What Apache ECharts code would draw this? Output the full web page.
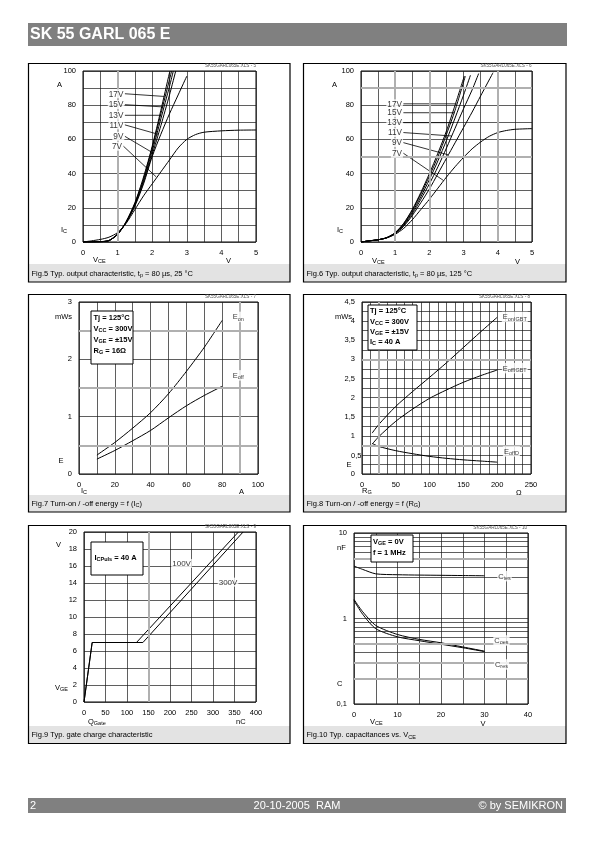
<!DOCTYPE html>
<html><head><meta charset="utf-8">
<script src="https://cdn.jsdelivr.net/npm/echarts@6/dist/echarts.min.js"></script>
<style>html,body{margin:0;padding:0;background:#fff}#c{width:595px;height:842px}</style>
</head><body><div id="c"></div>
<script>
// ================= DATA =================
// Fig.5  Ic [A] vs Vce [V], 25 °C
const f5Names = ['17V','15V','13V','11V','9V','7V'];
const f5_17V = [[0,0],[0.5,0.2],[0.75,0.8],[1.0,4.5],[1.25,12],[1.5,23],[1.75,38],[2.0,56],[2.25,77],[2.5,99],[2.52,100]];
const f5_15V = [[0,0],[0.5,0.2],[0.75,0.8],[1.0,4.5],[1.25,12],[1.5,22.5],[1.75,37],[2.0,55],[2.25,75],[2.5,95],[2.56,100]];
const f5_13V = [[0,0],[0.5,0.2],[0.75,0.8],[1.0,4.5],[1.25,11.5],[1.5,22],[1.75,36],[2.0,53],[2.25,72],[2.5,91],[2.61,100]];
const f5_11V = [[0,0],[0.5,0.2],[0.75,0.8],[1.0,4.5],[1.25,11.5],[1.5,21.5],[1.75,35],[2.0,51],[2.25,68],[2.5,86],[2.68,100]];
const f5_9V  = [[0,0],[0.5,0.2],[0.75,0.9],[1.0,4.8],[1.25,11.5],[1.5,21],[1.75,34],[2.0,50],[2.25,63],[2.5,75],[2.75,86],[3.0,97]];
const f5_7V  = [[0,0],[0.25,0.7],[0.5,1.5],[0.75,2.8],[1.0,5.5],[1.25,11],[1.5,19],[1.75,27],[2.0,34],[2.25,41],[2.5,48],[2.75,55],[3.0,60],[3.25,62.8],[3.5,64.2],[4.0,65],[4.5,65.4],[5.0,65.5]];
const f5LabelAt  = [[1.21,86.7],[1.21,80.3],[1.21,74.1],[1.21,68.5],[1.21,61.8],[1.17,56]];
const f5LeaderTo = [[2.36,85.1],[2.32,79],[2.27,74.1],[2.17,63],[2.03,52],[2.12,38]];

// Fig.6  Ic [A] vs Vce [V], 125 °C
const f6Names = ['17V','15V','13V','11V','9V','7V'];
const f6_17V = [[0,0],[0.25,0.7],[0.5,1.3],[0.75,2.5],[1.0,5.5],[1.25,11],[1.5,19],[1.75,29],[2.0,40],[2.25,52],[2.5,65],[2.75,80],[3.02,97]];
const f6_15V = [[0,0],[0.25,0.7],[0.5,1.3],[0.75,2.5],[1.0,5.4],[1.25,10.7],[1.5,18.5],[1.75,28],[2.0,38.5],[2.25,50],[2.5,63],[2.75,77],[3.05,97]];
const f6_13V = [[0,0],[0.25,0.7],[0.5,1.3],[0.75,2.5],[1.0,5.2],[1.25,10.2],[1.5,17.5],[1.75,26.5],[2.0,36.5],[2.25,47.5],[2.5,59.5],[2.75,72.5],[3.0,86],[3.2,97.5]];
const f6_11V = [[0,0],[0.25,0.7],[0.5,1.3],[0.75,2.5],[1.0,5],[1.25,9.7],[1.5,16.5],[1.75,25],[2.0,34],[2.25,44],[2.5,55],[2.75,66.5],[3.0,78],[3.25,89],[3.44,98.5]];
const f6_9V  = [[0,0],[0.25,0.7],[0.5,1.3],[0.75,2.4],[1.0,4.8],[1.25,9.2],[1.5,15.5],[1.75,23],[2.0,31],[2.25,40],[2.5,49],[2.75,58],[3.0,67],[3.25,76],[3.5,85.5],[3.86,99]];
const f6_7V  = [[0,0],[0.25,0.7],[0.5,1.3],[0.75,2.4],[1.0,4.5],[1.25,8],[1.5,13],[1.75,19],[2.0,25],[2.25,31.5],[2.5,38],[2.75,44],[3.0,49.5],[3.25,54.5],[3.5,58.5],[3.75,61.8],[4.0,64],[4.25,65.2],[4.5,65.9],[5.0,66.3]];
const f6LabelAt  = [[1.24,80.8],[1.24,75.6],[1.24,69.8],[1.24,64],[1.24,58.1],[1.24,51.9]];
const f6LeaderTo = [[2.79,80.8],[2.74,75.6],[2.68,69.8],[2.65,62],[2.55,51],[2.41,36]];

// Fig.7  E [mWs] vs Ic [A]
const f7Ic   = [10,20,30,40,50,60,70,80];
const f7Eon  = [0.33,0.55,0.8,1.07,1.4,1.79,2.21,2.68];
const f7Eoff = [0.26,0.41,0.58,0.76,0.98,1.19,1.37,1.53];

// Fig.8  E [mWs] vs Rg [Ohm]
const f8Rg    = [15,25,50,75,100,125,150,175,200];
const f8EonIGBT  = [1.07,1.3,1.77,2.16,2.53,2.91,3.31,3.71,4.1];
const f8EoffIGBT = [0.78,0.98,1.38,1.7,1.98,2.2,2.4,2.57,2.72];
const f8EoffD    = [0.8,0.72,0.61,0.53,0.46,0.41,0.37,0.34,0.31];

// Fig.9  Vge [V] vs Qgate [nC]
const f9Q100 = [0,19,122,359];
const f9V100 = [0,7,7,20];
const f9Q300 = [0,19,137,370];
const f9V300 = [0,7,7,20];

// Fig.10  C [nF] vs Vce [V]
const f10Vce  = [0,2,5,10,15,20,25,30];
const f10Cies = [4.1,3.75,3.33,3.25,3.22,3.2,3.18,3.16];
const f10Coes = [1.67,1.2,0.83,0.65,0.57,0.52,0.465,0.415];
const f10Cres = [1.62,1.12,0.76,0.61,0.55,0.5,0.455,0.41];
const f10MinorGrid = [0.2,0.3,0.4,0.5,0.6,0.7,0.8,0.9,2,3,4,5,6,7,8,9];

// ================= RENDER =================
const F = "'Liberation Sans', Arial, Helvetica, sans-serif";
const zip = (xs, ys) => xs.map((x, i) => [x, ys[i]]);
const GRID_COL = '#1a1a1a';

const grids = [
  {left:83,  top:71,  width:173, height:171},
  {left:361, top:71,  width:171, height:171},
  {left:79,  top:302, width:179, height:172},
  {left:362, top:302, width:169, height:172},
  {left:84,  top:532, width:172, height:170},
  {left:354, top:533, width:174, height:171}
];

function axis(gi, o) {
  const a = {
    gridIndex: gi, type: o.log ? 'log' : 'value', min: o.min, max: o.max,
    axisLine: {show: false}, axisTick: {show: false},
    axisLabel: {margin: 7, fontFamily: F, fontSize: 7.5, color: '#000', formatter: o.fmt, showMinLabel: true, showMaxLabel: true},
    splitLine: {show: true, lineStyle: {color: GRID_COL, width: 0.7}}
  };
  if (o.log) a.logBase = 10; else a.interval = o.interval;
  if (o.minor) { a.minorTick = {show: false, splitNumber: o.minor}; a.minorSplitLine = {show: true, lineStyle: {color: GRID_COL, width: 0.7}}; }
  return a;
}
const comma = v => String(v).replace('.', ',');
const xAxis = [
  axis(0, {min:0, max:5, interval:1, minor:2}),
  axis(1, {min:0, max:5, interval:1, minor:2}),
  axis(2, {min:0, max:100, interval:20, minor:2}),
  axis(3, {min:0, max:250, interval:50, minor:4}),
  axis(4, {min:0, max:400, interval:50}),
  axis(5, {min:0, max:40, interval:10, minor:2})
];
const yAxis = [
  axis(0, {min:0, max:100, interval:20, minor:2}),
  axis(1, {min:0, max:100, interval:20, minor:2}),
  axis(2, {min:0, max:3, interval:1, minor:2}),
  axis(3, {min:0, max:4.5, interval:0.5, minor:2, fmt: v => (v === 0.5 ? '' : comma(v))}),
  axis(4, {min:0, max:20, interval:2}),
  axis(5, {min:0.1, max:10, log:true, fmt: comma})
];

const RICH = {
  n:  {fontFamily: F, fontSize: 7.5},
  s:  {fontFamily: F, fontSize: 5.5, padding: [3.5, 0, 0, 0]},
  b:  {fontFamily: F, fontSize: 7.5, fontWeight: 'bold'},
  bs: {fontFamily: F, fontSize: 5.5, fontWeight: 'bold', padding: [3.5, 0, 0, 0]}
};

const series = [];
function curve(gi, pts, smooth) {
  series.push({type: 'line', xAxisIndex: gi, yAxisIndex: gi, data: pts, showSymbol: false, symbol: 'none',
    smooth: smooth ? 0.25 : false, lineStyle: {color: '#000', width: 1}, silent: true, z: 3});
}
function leader(gi, a, b) {
  series.push({type: 'line', xAxisIndex: gi, yAxisIndex: gi, data: [a, b], showSymbol: false, symbol: 'none',
    lineStyle: {color: '#000', width: 0.8}, silent: true, z: 3});
}
function tag(gi, pt, text, pos, size) {
  series.push({type: 'scatter', xAxisIndex: gi, yAxisIndex: gi, data: [pt], symbolSize: 1,
    itemStyle: {color: 'rgba(0,0,0,0)'}, silent: true, z: 6,
    label: {show: true, position: pos || 'inside', distance: 0, formatter: text, color: '#000',
      fontFamily: F, fontSize: size || 7.5, backgroundColor: '#fff', padding: [1, 1, 0, 1], rich: RICH}});
}
function refLines(gi, items, color, width) {
  series.push({type: 'line', xAxisIndex: gi, yAxisIndex: gi, data: [], z: 1, silent: true,
    markLine: {symbol: 'none', silent: true, animation: false, label: {show: false},
      lineStyle: {color: color, width: width, type: 'solid'}, data: items}});
}

// Fig.5
refLines(0, [{xAxis: 1}], '#b0b0b0', 2);
[f5_17V, f5_15V, f5_13V, f5_11V, f5_9V, f5_7V].forEach(c => curve(0, c, true));
f5Names.forEach((n, i) => { leader(0, f5LabelAt[i], f5LeaderTo[i]); tag(0, f5LabelAt[i], n, 'left', 8.2); });
// Fig.6
refLines(1, [{xAxis: 1}, {xAxis: 2}, {xAxis: 4}, {yAxis: 50}, {yAxis: 90}], '#b0b0b0', 2);
[f6_17V, f6_15V, f6_13V, f6_11V, f6_9V, f6_7V].forEach(c => curve(1, c, true));
f6Names.forEach((n, i) => { leader(1, f6LabelAt[i], f6LeaderTo[i]); tag(1, f6LabelAt[i], n, 'left', 8.2); });
// Fig.7
refLines(2, [{yAxis: 0.5}, {yAxis: 1.5}, {yAxis: 2.5}, {xAxis: 90}], '#b0b0b0', 2);
curve(2, zip(f7Ic, f7Eon), true);
curve(2, zip(f7Ic, f7Eoff), true);
tag(2, [89, 2.74], '{n|E}{s|on}');
tag(2, [89, 1.72], '{n|E}{s|off}');
// Fig.8
refLines(3, [{yAxis: 3}, {yAxis: 0.75}, {xAxis: 25}], '#b0b0b0', 2);
curve(3, zip(f8Rg, f8EonIGBT), true);
curve(3, zip(f8Rg, f8EoffIGBT), true);
curve(3, zip(f8Rg, f8EoffD), true);
tag(3, [226, 4.11], '{n|E}{s|onIGBT}');
tag(3, [226, 2.77], '{n|E}{s|offIGBT}');
tag(3, [221, 0.59], '{n|E}{s|offD}');
// Fig.9
refLines(4, [{xAxis: 150}], '#b0b0b0', 2);
curve(4, zip(f9Q100, f9V100), false);
curve(4, zip(f9Q300, f9V300), false);
tag(4, [227, 16.3], '100V', 'inside', 8);
tag(4, [335, 14.1], '300V', 'inside', 8);
// Fig.10
refLines(5, f10MinorGrid.map(v => ({yAxis: v})), GRID_COL, 0.7);
refLines(5, [{yAxis: 5}, {yAxis: 0.5}, {yAxis: 0.3}, {yAxis: 0.2}], '#b0b0b0', 2);
curve(5, zip(f10Vce, f10Cies), true);
curve(5, zip(f10Vce, f10Coes), true);
curve(5, zip(f10Vce, f10Cres), true);
tag(5, [34.6, 3.13], '{n|C}{s|ies}');
tag(5, [33.9, 0.553], '{n|C}{s|oes}');
tag(5, [33.9, 0.29], '{n|C}{s|res}');

// ---------- page graphics ----------
const G = [];
function T(x, y, text, o) {
  G.push({type: 'text', z: 50, silent: true,
    style: Object.assign({x: x, y: y, text: text, fill: '#000', fontFamily: F, fontSize: 7.5,
      align: 'left', verticalAlign: 'middle', rich: RICH}, o || {})});
}
function R(x, y, w, h, fill, stroke, lw, z) {
  G.push({type: 'rect', z: z || 0, silent: true, shape: {x: x, y: y, width: w, height: h},
    style: {fill: fill, stroke: stroke, lineWidth: lw || 1}});
}
// header & footer
R(28, 23, 539, 23, '#808080', null, 0);
T(30, 35, 'SK 55 GARL 065 E', {fill: '#fff', fontSize: 16, fontWeight: 'bold'});
R(28, 798, 538, 15, '#808080', null, 0);
T(30, 805.5, '2', {fill: '#fff', fontSize: 11});
T(297, 805.5, '20-10-2005  RAM', {fill: '#fff', fontSize: 11, align: 'center'});
T(563, 805.5, '\u00a9 by SEMIKRON', {fill: '#fff', fontSize: 11, align: 'right'});

// panel boxes with caption bands
const boxX = [[28.5, 261.5], [303.5, 262.5]];
const boxY = [[63.5, 218.5, 264], [294.5, 217.5, 495], [525.5, 218, 726]];
const captions = [
  ['{n|Fig.5 Typ. output characteristic, t}{s|p}{n| = 80 \u00b5s, 25 \u00b0C}', '{n|Fig.6 Typ. output characteristic, t}{s|p}{n| = 80 \u00b5s, 125 \u00b0C}'],
  ['{n|Fig.7 Turn-on / -off energy = f (I}{s|C}{n|)}', '{n|Fig.8 Turn-on / -off energy = f (R}{s|G}{n|)}'],
  ['{n|Fig.9 Typ. gate charge characteristic}', '{n|Fig.10 Typ. capacitances vs. V}{s|CE}']
];
boxY.forEach((by, r) => boxX.forEach((bx, c) => {
  const bottom = by[0] + by[1];
  R(bx[0], by[2], bx[1], bottom - by[2], '#e3e3e3', null, 0, 0);
  R(bx[0], by[0], bx[1], by[1], 'none', '#000', 1.2, 40);
  T(bx[0] + 3, (by[2] + bottom) / 2 + 0.5, captions[r][c]);
}));

// source file notes
const srcNotes = [[256, 65.5, '5'], [531.5, 65.5, '6'], [256, 296.5, '7'], [530, 296.5, '8'], [256, 527, '9'], [527, 527.5, '10']];
srcNotes.forEach(s => T(s[0], s[1], 'SK55GARL065E.XLS - ' + s[2], {fontSize: 4.6, fill: '#555', align: 'right', rich: null}));

// axis unit labels
T(57, 85, '{n|A}'); T(61, 230, '{n|I}{s|C}'); T(93, 260, '{n|V}{s|CE}'); T(226, 261, '{n|V}');
T(332, 85, '{n|A}'); T(337, 230, '{n|I}{s|C}'); T(372, 261, '{n|V}{s|CE}'); T(515, 262, '{n|V}');
T(55, 317, '{n|mWs}'); T(58.5, 461, '{n|E}'); T(81, 491, '{n|I}{s|C}'); T(239, 492, '{n|A}');
T(335, 317, '{n|mWs}'); T(346.5, 465, '{n|E}'); T(362, 491, '{n|R}{s|G}'); T(516, 493, '{n|\u03a9}');
T(361.5, 456, '{n|0,5}', {align: 'right'});
T(56, 545, '{n|V}'); T(55, 688, '{n|V}{s|GE}'); T(88, 722, '{n|Q}{s|Gate}'); T(236, 722, '{n|nC}');
T(337, 548, '{n|nF}'); T(337, 684, '{n|C}'); T(370, 722, '{n|V}{s|CE}'); T(480.5, 724, '{n|V}');

// condition boxes
R(91, 311, 42, 53, '#fff', '#000', 1, 45);
T(93.5, 317.5, '{b|Tj = 125\u00b0C}', {z: 60});
T(93.5, 328.5, '{b|V}{bs|CC}{b| = 300V}', {z: 60});
T(93.5, 339.5, '{b|V}{bs|GE}{b| = \u00b115V}', {z: 60});
T(93.5, 351, '{b|R}{bs|G}{b| = 16\u03a9}', {z: 60});

R(368, 305, 49, 45, '#fff', '#000', 1, 45);
T(370, 311, '{b|Tj = 125\u00b0C}', {z: 60});
T(370, 321.5, '{b|V}{bs|CC}{b| = 300V}', {z: 60});
T(370, 331.5, '{b|V}{bs|GE}{b| = \u00b115V}', {z: 60});
T(370, 341.5, '{b|I}{bs|C}{b| = 40 A}', {z: 60});

R(91, 542, 52, 33, '#fff', '#000', 1, 45);
T(94.5, 558, '{b|I}{bs|CPuls}{b| = 40 A}', {z: 60});

R(371, 535, 42, 27, '#fff', '#000', 1, 45);
T(373, 541.5, '{b|V}{bs|GE}{b| = 0V}', {z: 60});
T(373, 553, '{b|f = 1 MHz}', {z: 60});

const chart = echarts.init(document.getElementById('c'), null, {renderer: 'canvas'});
chart.setOption({
  animation: false,
  backgroundColor: '#fff',
  grid: grids.map(g => Object.assign({show: true, borderColor: '#000', borderWidth: 1, backgroundColor: 'transparent', containLabel: false, outerBoundsMode: 'none'}, g)),
  xAxis: xAxis,
  yAxis: yAxis,
  series: series,
  graphic: G
});
</script>
</body></html>
